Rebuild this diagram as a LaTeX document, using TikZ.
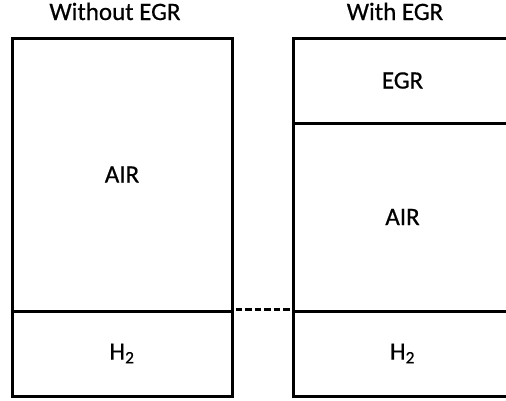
\documentclass[tikz,border=0pt]{standalone}
\usepackage{fontspec}
\setmainfont{Carlito}[FakeBold=0.6]
\begin{document}
\begin{tikzpicture}[x=1pt,y=-1pt,
  part/.style={draw=black,line width=3pt,inner sep=0pt,font=\fontsize{25}{30}\selectfont},
  title/.style={inner sep=0pt,anchor=base,font=\fontsize{25}{30}\selectfont}]
\useasboundingbox (0,0) rectangle (506,400);
\clip (0,0) rectangle (506,400);
\node[title] (tl) at (115,20) {Without EGR};
\node[title] (tr) at (395,20) {With EGR};
\node[part,minimum width=220pt,minimum height=273pt] (lair) at (122,174.5) {AIR};
\node[part,minimum width=220pt,minimum height=85pt] (lh) at (122,353.5) {H\textsubscript{2}};
\node[part,minimum width=219pt,minimum height=85pt] (regr) at (402.5,80.5) {EGR};
\node[part,minimum width=219pt,minimum height=188pt] (rair) at (402.5,217) {AIR};
\node[part,minimum width=219pt,minimum height=85pt] (rh) at (402.5,353.5) {H\textsubscript{2}};
\draw[line width=3pt,dash pattern=on 6.5pt off 3pt,dash phase=-2pt] (lh.north east) -- (rh.north west);
\end{tikzpicture}
\end{document}
